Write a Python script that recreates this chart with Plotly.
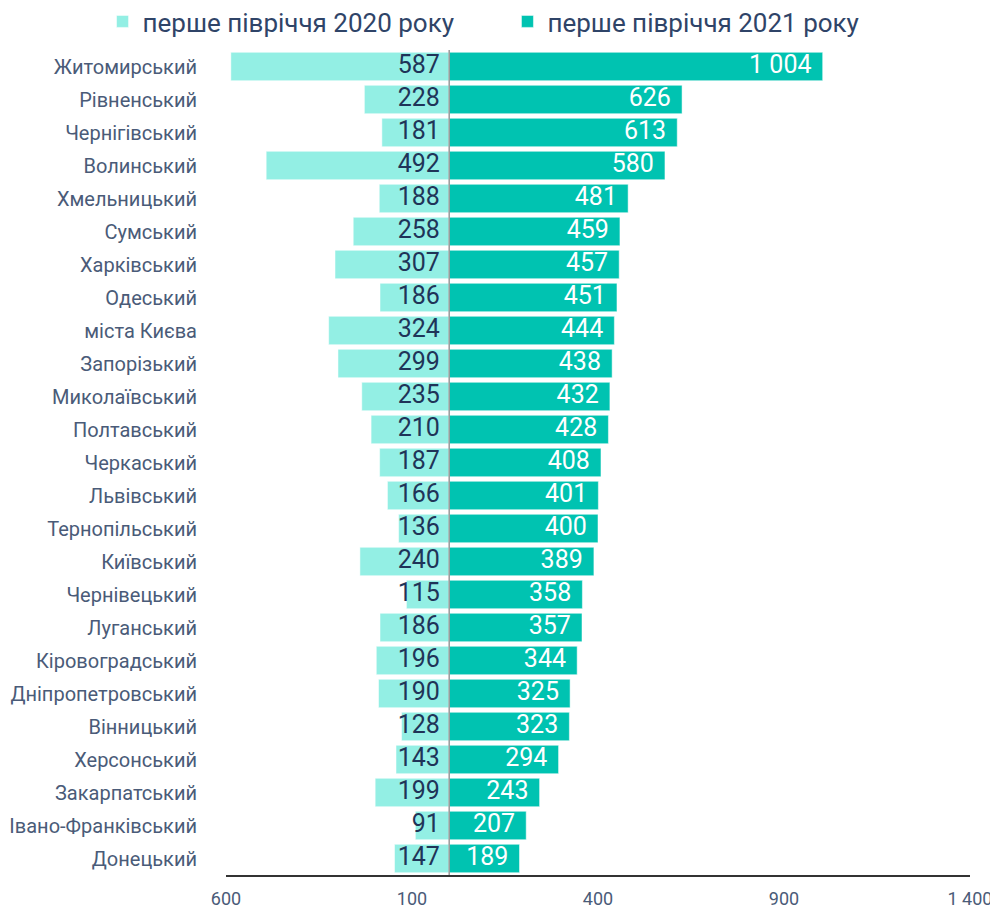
import plotly.graph_objects as go

regions = [
    "Житомирський", "Рівненський", "Чернігівський", "Волинський", "Хмельницький",
    "Сумський", "Харківський", "Одеський", "міста Києва", "Запорізький",
    "Миколаївський", "Полтавський", "Черкаський", "Львівський", "Тернопільський",
    "Київський", "Чернівецький", "Луганський", "Кіровоградський", "Дніпропетровський",
    "Вінницький", "Херсонський", "Закарпатський", "Івано-Франківський", "Донецький",
]
h1_2020 = [587, 228, 181, 492, 188, 258, 307, 186, 324, 299,
           235, 210, 187, 166, 136, 240, 115, 186, 196, 190,
           128, 143, 199, 91, 147]
h1_2021 = [1004, 626, 613, 580, 481, 459, 457, 451, 444, 438,
           432, 428, 408, 401, 400, 389, 358, 357, 344, 325,
           323, 294, 243, 207, 189]
series_names = ["перше півріччя 2020 року", "перше півріччя 2021 року"]
x_tickvals = [-600, -100, 400, 900, 1400]
x_ticktext = ["600", "100", "400", "900", "1 400"]

C_LEFT = "#93efe4"
C_RIGHT = "#00c3b1"
TXT_DARK = "#1f3458"
TXT_AXIS = "#4a5b78"
FONT = "Roboto"


def fmt(v):
    return f"{v:,}".replace(",", " ")


fig = go.Figure()
fig.add_trace(go.Bar(
    y=regions, x=[-v for v in h1_2020], orientation="h", name=series_names[0],
    marker=dict(color=C_LEFT, line=dict(color="rgba(255,255,255,0.5)", width=1)),
    hoverinfo="skip", legend="legend",
))
fig.add_trace(go.Bar(
    y=regions, x=h1_2021, orientation="h", name=series_names[1],
    marker=dict(color=C_RIGHT, line=dict(color="rgba(255,255,255,0.5)", width=1)),
    hoverinfo="skip", legend="legend2",
))
# value labels
fig.add_trace(go.Scatter(
    y=regions, x=[-25] * len(regions), mode="text",
    text=[fmt(v) for v in h1_2020], textposition="middle left",
    textfont=dict(family=FONT, size=25, color=TXT_DARK),
    showlegend=False, hoverinfo="skip",
))
fig.add_trace(go.Scatter(
    y=regions, x=[v - 30 for v in h1_2021], mode="text",
    text=[fmt(v) for v in h1_2021], textposition="middle left",
    textfont=dict(family=FONT, size=25, color="white"),
    showlegend=False, hoverinfo="skip",
))

fig.add_shape(type="line", xref="x", yref="paper", x0=0, x1=0, y0=0, y1=1,
              line=dict(color="#9a9a9a", width=1.5), layer="above")

legend_style = dict(
    orientation="h", xref="container", yref="container",
    xanchor="left", y=0.985, yanchor="middle",
    font=dict(family=FONT, size=26, color="#2f4468"),
    itemwidth=30, bgcolor="rgba(0,0,0,0)",
)

fig.update_layout(
    width=990, height=900,
    margin=dict(l=218, r=28, t=42, b=33, autoexpand=False),
    paper_bgcolor="white", plot_bgcolor="white",
    barmode="relative", bargap=0.14,
    font=dict(family=FONT, color=TXT_AXIS),
    legend=dict(x=0.0955, **legend_style),
    legend2=dict(x=0.5045, **legend_style),
    showlegend=True,
)
fig.update_xaxes(
    range=[-600, 1400], tickvals=x_tickvals, ticktext=x_ticktext,
    showgrid=False, zeroline=False, showline=True, linecolor="#333333", linewidth=1.5,
    tickfont=dict(family=FONT, size=18, color=TXT_AXIS), ticks="",
    ticklabelstandoff=7,
)
fig.update_yaxes(
    range=[len(regions) - 0.5, -0.5], showgrid=False, zeroline=False, showline=False,
    tickfont=dict(family=FONT, size=20, color=TXT_AXIS), ticks="",
    ticklabelstandoff=28,
)

fig.write_html("out.html")
